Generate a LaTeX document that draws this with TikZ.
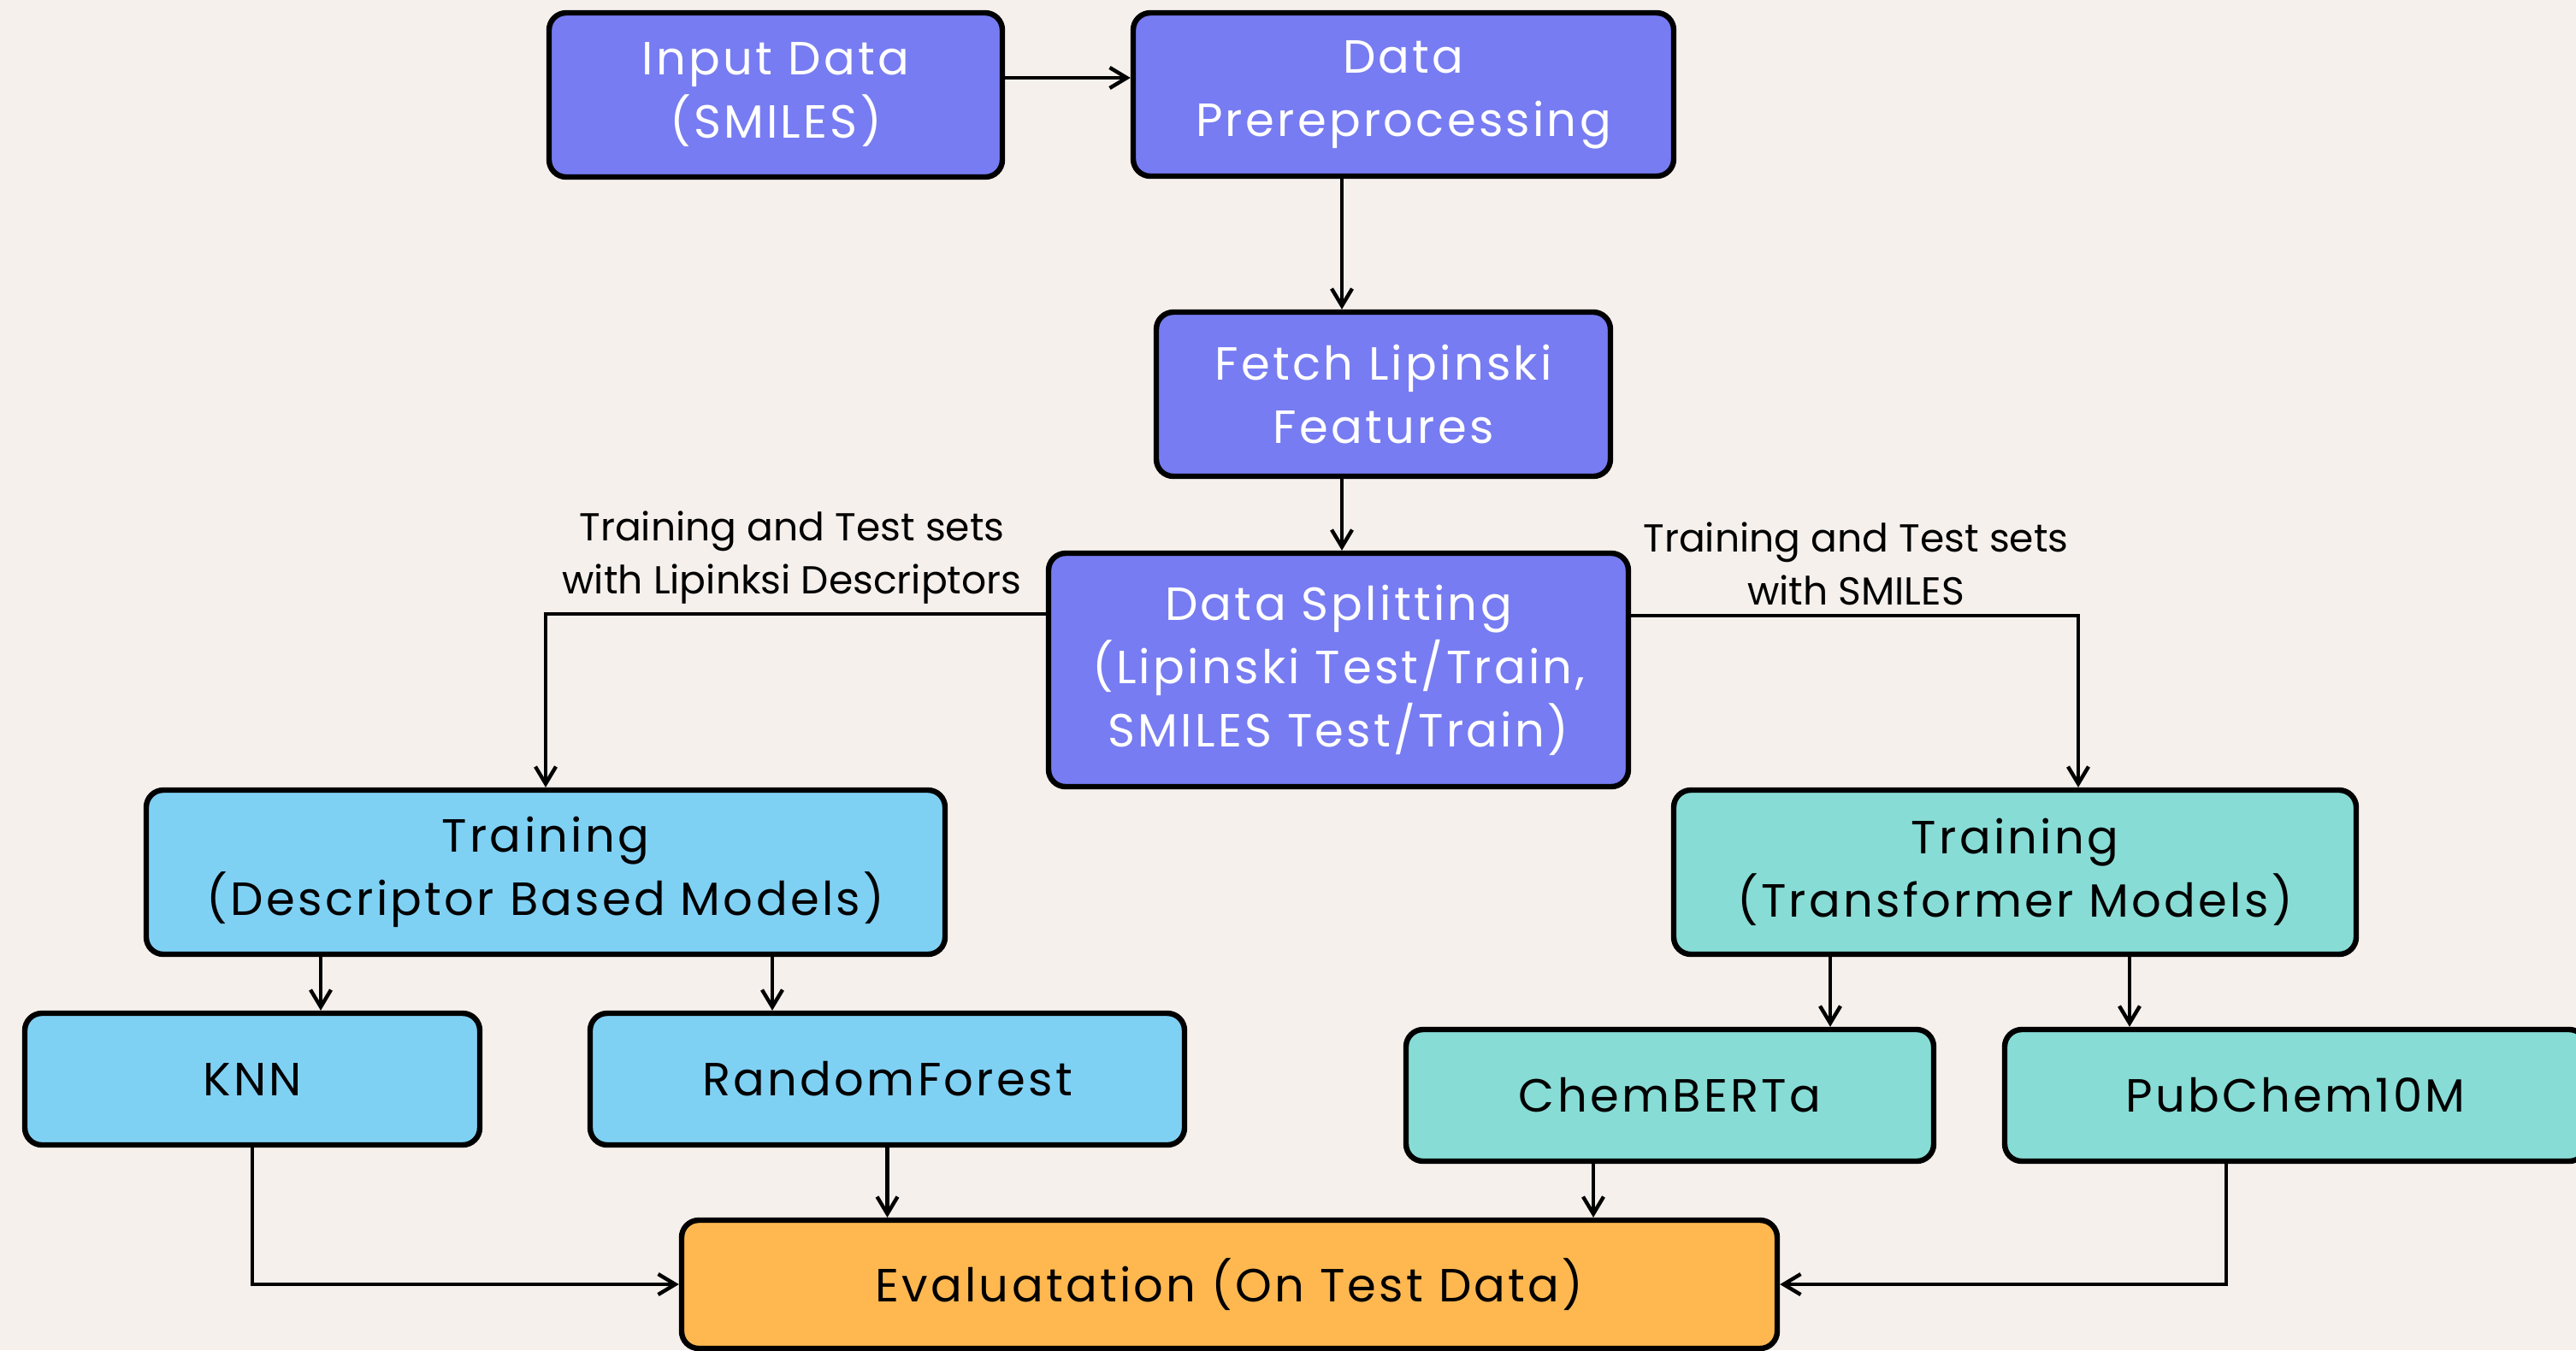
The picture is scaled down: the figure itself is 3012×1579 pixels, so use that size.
\documentclass[tikz,border=0pt]{standalone}
\usepackage{fontspec}
\setmainfont{Poppins}
\newfontfamily\boxfont{Poppins}[LetterSpace=6]
\newfontfamily\labelfont{Poppins}
\usetikzlibrary{arrows.meta}
\definecolor{bgc}{RGB}{245,240,236}
\definecolor{purplebox}{RGB}{119,124,242}
\definecolor{bluebox}{RGB}{127,209,244}
\definecolor{tealbox}{RGB}{136,220,214}
\definecolor{orangebox}{RGB}{255,184,80}
\tikzset{
  box/.style={draw=black, line width=1.6pt, rounded corners=5pt, inner sep=0pt,
    align=center, font=\boxfont\fontsize{13.6}{18.5}\selectfont},
  pbox/.style={box, fill=purplebox, text=white},
  bbox/.style={box, fill=bluebox, text=black},
  tbox/.style={box, fill=tealbox, text=black},
  obox/.style={box, fill=orangebox, text=black},
  arr/.style={draw=black, line width=1.1pt, -{Straight Barb[length=5pt,width=6pt]}},
  lbl/.style={align=center, font=\labelfont\fontsize{11.4}{15.5}\selectfont, text=black}
}
\begin{document}
\begin{tikzpicture}[x=0.25pt,y=-0.25pt]
\useasboundingbox (0,0) rectangle (3012,1579);
\fill[bgc] (0,0) rectangle (3012,1579);

% process boxes
\node[pbox, minimum width=132.5pt, minimum height=48pt] (inp) at (907,111) {Input Data\\(SMILES)};
\node[pbox, minimum width=158pt, minimum height=47.75pt] (prep) at (1641,110.5) {Data\\Prereprocessing};
\node[pbox, minimum width=132.75pt, minimum height=48pt] (fetch) at (1617.5,461) {Fetch Lipinski\\Features};
\node[pbox, minimum width=169.5pt, minimum height=68.25pt] (split) at (1565,783.5) {Data Splitting\\(Lipinski Test/Train,\\SMILES Test/Train)};
\node[bbox, minimum width=233.5pt, minimum height=48pt] (tdesc) at (638,1020) {Training\\(Descriptor Based Models)};
\node[tbox, minimum width=199.5pt, minimum height=48pt] (ttrans) at (2356,1020) {Training\\(Transformer Models)};
\node[bbox, minimum width=133pt, minimum height=38.5pt] (knn) at (295,1262) {KNN};
\node[bbox, minimum width=173.75pt, minimum height=38.5pt] (rf) at (1037.5,1262) {RandomForest};
\node[tbox, minimum width=154.25pt, minimum height=38.5pt] (chem) at (1952.5,1281) {ChemBERTa};
\node[tbox, minimum width=170pt, minimum height=38.5pt] (pub) at (2684,1281) {PubChem10M};
\node[obox, minimum width=320.25pt, minimum height=37.5pt] (eval) at (1437.5,1502) {Evaluatation (On Test Data)};

% edge labels
\node[lbl] (lblL) at (926,652) {Training and Test sets\\with Lipinksi Descriptors};
\node[lbl] (lblR) at (2170,659) {Training and Test sets\\with SMILES};

% x positions of vertical connectors
\coordinate (xm) at (1569,0);
\coordinate (xk) at (375,0);
\coordinate (xr) at (903,0);
\coordinate (xc) at (2140,0);
\coordinate (xp) at (2490,0);
\coordinate (xt) at (2430,0);
\coordinate (xce) at (1863,0);
\coordinate (xpe) at (2603,0);

% connectors
\draw[arr] ([yshift=5pt]inp.east) -- ([yshift=5pt]inp.east -| prep.west);
\draw[arr] (xm |- prep.south) -- (xm |- fetch.north);
\draw[arr] (xm |- fetch.south) -- (xm |- split.north);
\draw[arr] ([yshift=16.4pt]split.west) -| (tdesc.north);
\draw[arr] ([yshift=15.9pt]split.east) -| (xt |- ttrans.north);
\draw[arr] (xk |- tdesc.south) -- (xk |- knn.north);
\draw[arr] (xr |- tdesc.south) -- (xr |- rf.north);
\draw[arr] (xc |- ttrans.south) -- (xc |- chem.north);
\draw[arr] (xp |- ttrans.south) -- (xp |- pub.north);
\draw[arr] (knn.south) |- (eval.west);
\draw[arr] (rf.south) -- (rf.south |- eval.north);
\draw[arr] (xce |- chem.south) -- (xce |- eval.north);
\draw[arr] (xpe |- pub.south) |- (eval.east);
\end{tikzpicture}
\end{document}
